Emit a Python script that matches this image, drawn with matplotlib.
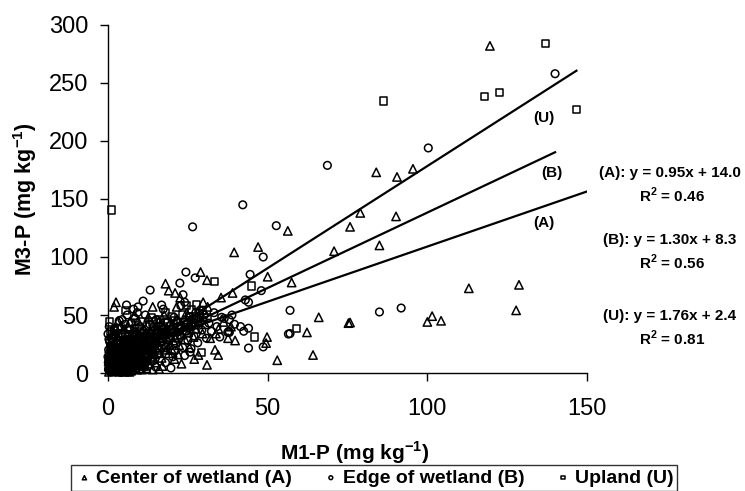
import numpy as np
import matplotlib.pyplot as plt

plt.rcParams['font.family'] = ['Liberation Sans', 'DejaVu Sans']
plt.rcParams['mathtext.fontset'] = 'custom'
plt.rcParams['mathtext.rm'] = 'Liberation Sans'
plt.rcParams['mathtext.bf'] = 'Liberation Sans:bold'

# points (M1-P, M3-P), dense cluster estimated
center_pts = [
    (119.6, 282), (84, 173), (90.5, 169), (95.5, 176), (79, 138), (75.8, 126), (90.2, 135),
    (70.8, 105), (85, 110), (56.3, 122.5), (47, 108.6), (39.5, 104), (50, 83), (57.5, 78),
    (39, 69), (35.4, 65), (113, 73), (128.7, 76), (127.8, 54), (100, 44), (101.5, 49),
    (104.3, 45), (66, 48), (75.3, 43), (75.8, 43.5), (62.3, 35), (64.2, 15.5), (53, 11),
    (49.8, 31), (49.5, 25.8), (39.8, 28), (33.5, 20), (34.5, 15.5), (31, 7), (28.3, 15.5),
    (16, 3.4), (33.8, 34), (37.6, 30), (31, 80), (29, 87), (18, 77), (19, 71), (21, 69),
    (22.6, 65), (21.5, 57), (29.8, 61), (31.2, 57), (14, 57), (2.5, 61), (1.9, 57), (4, 41),
    (0.5, 3), (0.8, 8), (1.0, 14), (1.2, 2), (1.5, 20), (1.8, 6), (2.0, 11), (2.3, 26),
    (2.5, 4), (2.7, 16), (3.0, 9), (3.1, 31), (3.4, 1), (3.7, 13), (4.0, 22), (4.1, 7),
    (4.4, 18), (4.6, 35), (4.9, 3), (5.0, 11), (5.3, 27), (5.6, 15), (5.8, 6), (6.0, 21),
    (6.2, 40), (6.6, 9), (6.9, 17), (7.0, 30), (7.3, 2), (7.5, 24), (7.8, 13), (8.1, 36),
    (8.4, 19), (8.6, 5), (8.8, 28), (9.2, 11), (9.4, 45), (9.8, 22), (10.0, 15), (10.1, 33),
    (10.4, 8), (10.7, 26), (11.2, 38), (11.5, 18), (11.9, 29), (12.0, 4), (12.2, 23),
    (12.6, 48), (13.0, 31), (13.4, 14), (13.7, 26), (13.8, 40), (14.2, 20), (14.6, 34),
    (14.9, 9), (15.4, 28), (15.8, 44), (16.0, 22), (16.3, 36), (16.8, 13), (17.1, 30),
    (17.6, 50), (18.0, 25), (18.4, 38), (19.0, 17), (19.2, 32), (19.6, 44), (20.4, 28),
    (20.8, 12), (21.2, 36), (21.6, 46), (22.3, 24), (22.9, 33), (23.0, 8), (23.7, 40),
    (24.1, 29), (24.6, 52), (25.1, 35), (25.5, 22), (26.2, 44), (26.8, 31), (27.0, 12),
    (27.6, 38), (28.2, 48), (29.6, 34), (30.5, 42), (32.0, 30), (34.6, 38), (36.2, 44),
    (38.5, 40), (14.0, 3), (17.0, 6), (20.0, 20), (22.0, 16), (0.3, 1), (1.1, 5), (2.1, 2),
    (2.9, 7), (3.6, 4), (4.3, 10), (5.2, 1), (6.4, 5), (7.2, 10), (8.0, 3), (9.0, 7),
    (10.6, 3), (11.4, 10),
    (0.2, 10), (0.6, 17), (1.4, 24), (2.2, 19), (3.3, 25), (3.9, 16), (4.7, 28), (5.5, 19),
    (6.3, 26), (7.1, 33), (7.9, 20), (8.7, 14), (9.5, 31), (10.3, 21), (11.1, 27), (11.8, 35),
    (12.5, 17), (13.2, 36), (14.1, 27), (15.0, 38), (15.9, 31), (16.7, 42), (17.8, 34),
    (18.8, 29), (19.9, 39), (21.0, 31), (22.6, 42), (24.0, 37), (25.8, 41), (27.3, 44),
    (0.9, 27), (1.6, 33), (2.4, 38), (3.2, 45), (0.4, 21), (5.1, 38), (6.8, 44), (8.3, 50),
    (3.8, 6), (2.6, 12), (1.3, 9), (5.9, 12), (6.7, 1), (9.9, 4), (12.9, 8), (11.0, 13),
    (7.6, 6), (4.8, 15),
    (0.35, 6), (0.95, 12), (1.55, 16), (2.15, 8), (2.75, 5), (3.35, 18), (3.95, 11),
    (4.55, 2), (5.15, 8), (5.75, 23), (6.35, 15), (6.95, 10), (7.55, 18), (8.15, 11),
    (8.75, 22), (9.35, 19), (9.95, 9), (10.55, 14), (11.15, 6), (11.75, 16), (12.35, 11),
    (12.95, 21), (13.55, 18), (14.15, 13), (14.75, 16), (15.35, 20), (16.25, 17),
    (17.35, 22), (18.25, 20), (19.35, 24),
]

edge_pts = [
    (140, 258), (100.3, 194), (68.7, 179), (42.2, 145), (26.5, 126), (52.7, 127), (48.6, 100),
    (44.5, 85), (48, 71), (43, 63), (44, 61), (85, 52.6), (91.8, 56), (57, 54), (56.5, 33.6),
    (57, 34), (48.6, 22.5), (44, 21.5), (44, 38.6), (42.5, 36), (25.7, 18), (19.7, 4.3),
    (37.5, 35), (38, 46), (35.6, 48), (24.4, 87), (27.3, 82), (13.2, 71.5), (22.5, 77.5),
    (23.5, 67.5), (24, 61), (28.8, 54), (16.8, 58.6), (9.4, 57), (5.8, 58.6), (0, 33.6),
    (0.5, 27), (0, 14), (38.8, 50), (38, 35),
    (0.3, 5), (0.6, 12), (0.9, 1), (1.1, 18), (1.4, 8), (1.6, 24), (1.9, 3), (2.1, 14),
    (2.4, 30), (2.6, 6), (2.9, 19), (3.2, 10), (3.5, 26), (3.8, 2), (3.9, 16), (4.2, 34),
    (4.5, 8), (4.8, 21), (5.1, 13), (5.4, 42), (5.7, 4), (5.9, 29), (6.3, 17), (6.5, 9),
    (6.8, 37), (7.1, 22), (7.4, 12), (7.7, 31), (7.9, 6), (8.2, 26), (8.5, 47), (8.7, 16),
    (9.0, 34), (9.3, 9), (9.6, 24), (9.9, 40), (10.2, 19), (10.5, 30), (10.8, 12), (11.1, 36),
    (11.4, 25), (11.7, 50), (12.1, 16), (12.4, 32), (12.8, 22), (13.1, 42), (13.5, 28),
    (13.9, 10), (14.3, 36), (14.7, 24), (15.1, 46), (15.5, 31), (15.9, 17), (16.4, 40),
    (16.9, 27), (17.3, 55), (17.8, 34), (18.3, 22), (18.7, 44), (19.3, 30), (19.8, 38),
    (20.3, 14), (20.7, 48), (21.3, 26), (21.8, 40), (22.4, 33), (22.8, 58), (23.4, 22),
    (23.9, 44), (24.5, 36), (25.0, 28), (25.7, 48), (26.3, 40), (26.9, 32), (27.5, 52),
    (28.1, 26), (28.7, 44), (29.4, 37), (30.1, 50), (30.8, 30), (31.6, 43), (32.4, 36),
    (33.2, 52), (34.1, 40), (35.0, 31), (36.4, 47), (37.8, 36), (39.6, 42), (41.5, 40),
    (2.0, 38), (3.5, 45), (1.0, 30), (6.0, 50), (8.0, 55), (11.0, 62), (0.2, 20), (0.4, 40),
    (15.0, 5), (18.0, 9), (21.0, 19), (24.0, 15), (26.0, 21), (4.0, 0.5), (7.0, 1),
    (10.0, 2.5), (12.5, 6), (0.7, 2), (1.3, 5), (2.2, 1), (2.8, 9), (3.3, 4), (4.3, 12),
    (5.0, 2), (5.5, 7), (6.1, 3), (6.9, 14), (7.6, 8), (8.9, 4), (9.7, 13), (1.7, 10),
    (2.3, 17), (3.6, 7),
    (0.1, 9), (0.5, 16), (0.8, 23), (1.2, 12), (1.5, 2), (2.0, 22), (2.5, 9), (3.0, 14),
    (3.4, 20), (4.0, 25), (4.6, 17), (5.2, 24), (5.8, 11), (6.4, 28), (7.0, 18), (7.6, 27),
    (8.3, 21), (8.8, 33), (9.5, 17), (10.1, 27), (10.9, 22), (11.6, 31), (12.3, 26),
    (13.0, 35), (13.8, 22), (14.6, 31), (15.6, 36), (16.4, 26), (17.4, 38), (18.5, 33),
    (19.5, 41), (20.6, 35), (21.7, 45), (22.9, 38), (24.2, 46), (25.4, 39), (26.8, 47),
    (28.3, 41), (29.8, 46), (3.1, 38), (4.4, 46), (7.3, 43), (9.2, 52), (0.3, 29), (1.8, 34),
    (2.7, 28), (5.3, 34), (6.6, 22),
    (0.15, 3), (0.45, 7), (0.75, 11), (1.05, 15), (1.35, 19), (1.65, 13), (1.95, 7),
    (2.25, 3), (2.55, 21), (2.85, 25), (3.15, 17), (3.45, 12), (3.75, 9), (4.05, 5),
    (4.35, 3), (4.65, 23), (4.95, 19), (5.25, 9), (5.55, 14), (5.85, 20), (6.15, 25),
    (6.45, 13), (6.75, 7), (7.05, 4), (7.35, 16), (7.65, 21), (7.95, 12), (8.25, 9),
    (8.55, 25), (8.85, 18), (9.15, 22), (9.45, 14), (9.75, 6), (10.05, 11), (10.35, 17),
    (10.65, 24), (11.25, 15), (11.85, 20), (12.45, 13), (13.05, 19),
]

upland_pts = [
    (136.9, 284), (118, 238), (122.5, 241.6), (146.6, 227), (86.2, 234.5), (1, 140.5),
    (45, 75), (33.3, 78.7), (59, 38.6), (46, 31), (29.3, 18), (24.6, 58), (27.8, 58.6),
    (5.6, 54), (1.9, 37),
    (0.5, 7), (1.2, 16), (1.8, 3), (2.4, 22), (3.1, 11), (3.8, 28), (4.5, 6), (5.2, 17),
    (6.0, 33), (6.7, 12), (7.5, 24), (8.3, 38), (9.1, 18), (10.0, 29), (10.9, 44), (11.8, 22),
    (12.7, 34), (13.6, 48), (14.6, 28), (15.7, 40), (16.8, 32), (18.0, 52), (19.2, 36),
    (20.5, 45), (21.8, 30), (23.2, 50), (24.7, 42), (26.2, 55), (27.8, 46), (29.5, 54),
    (31.0, 48), (0.9, 36), (2.0, 4), (9.5, 8), (3.0, 2), (6.5, 2), (1.5, 26),
    (0.3, 12), (1.0, 22), (1.7, 30), (2.6, 16), (3.4, 34), (4.2, 20), (5.0, 26), (5.8, 10),
    (7.0, 29), (8.0, 15), (8.9, 31), (9.8, 36), (11.2, 30), (12.1, 40), (13.2, 27), (14.1, 44),
    (15.2, 35), (16.2, 46), (17.4, 40), (18.6, 44), (19.9, 49), (22.4, 38), (25.4, 49),
    (28.6, 51), (4.0, 2), (2.2, 9), (11.5, 7), (0.6, 44),
]

group_labels = ['Center of wetland (A)', 'Edge of wetland (B)', 'Upland (U)']
line_names = ['(A)', '(B)', '(U)']
slopes = [0.95, 1.30, 1.76]
intercepts = [14.0, 8.3, 2.4]
r_squared = [0.46, 0.56, 0.81]
line_x_end = [150, 140, 146.7]

fig = plt.figure(figsize=(7.45, 4.91), dpi=100)
ax = fig.add_axes([108 / 745, 1 - 373 / 491, 479 / 745, 348 / 491])

markers = ['^', 'o', 's']
sizes = [36, 30, 26]
handles = []
for pts, m, s, lab in zip([center_pts, edge_pts, upland_pts], markers, sizes, group_labels):
    xy = np.array(pts)
    h = ax.scatter(xy[:, 0], xy[:, 1], marker=m, s=s, facecolors='none',
                   edgecolors='black', linewidths=1.1, label=lab, clip_on=False, zorder=3)
    handles.append(h)

# regression lines
for b1, b0, xe in zip(slopes, intercepts, line_x_end):
    xs = np.array([0, xe])
    ax.plot(xs, b1 * xs + b0, color='black', lw=1.6, zorder=4)

# line labels
label_pos = [(136.5, 129), (139, 172), (136.5, 220)]
for name, (lx, ly) in zip(line_names, label_pos):
    ax.text(lx, ly, name, fontsize=11, fontweight='bold', ha='center', va='center')

ax.set_xlim(0, 150)
ax.set_ylim(0, 300)
ax.set_xticks([0, 50, 100, 150])
ax.set_yticks(np.arange(0, 301, 50))
ax.spines['top'].set_visible(False)
ax.spines['right'].set_visible(False)
for sp in ['left', 'bottom']:
    ax.spines[sp].set_linewidth(1.0)
ax.tick_params(axis='both', direction='out', length=6, width=1, labelsize=17)
ax.tick_params(axis='x', pad=12)
ax.tick_params(axis='y', pad=8)

ax.set_xlabel(r'M1-P (mg kg$^{\mathbf{-1}}$)', fontsize=15, fontweight='bold')
ax.xaxis.set_label_coords(0.516, -0.19)
ax.set_ylabel(r'M3-P (mg kg$^{\mathbf{-1}}$)', fontsize=15.5, fontweight='bold')
ax.yaxis.set_label_coords(-0.145, 0.5)

# equations on the right
eq_y = [173, 240, 316]
for name, b1, b0, r2, yy in zip(line_names, slopes, intercepts, r_squared, eq_y):
    fig.text(670 / 745, 1 - yy / 491, f'{name}: y = {b1:.2f}x + {b0:.1f}',
             fontsize=11, fontweight='bold', ha='center', va='center')
    fig.text(672 / 745, 1 - (yy + 22) / 491, r'R$^{\mathbf{2}}$ = ' + f'{r2:.2f}',
             fontsize=11, fontweight='bold', ha='center', va='center')

leg = fig.legend(handles=handles, loc='center', bbox_to_anchor=(374 / 745, 1 - 478 / 491),
                 ncol=3, frameon=True, fancybox=False, edgecolor='black', markerscale=0.5,
                 prop={'weight': 'bold', 'size': 14}, handletextpad=0.1, columnspacing=1.5,
                 borderpad=0.2, handlelength=1.0)
leg.get_frame().set_linewidth(1.0)

fig.savefig('out.png', dpi=100)
